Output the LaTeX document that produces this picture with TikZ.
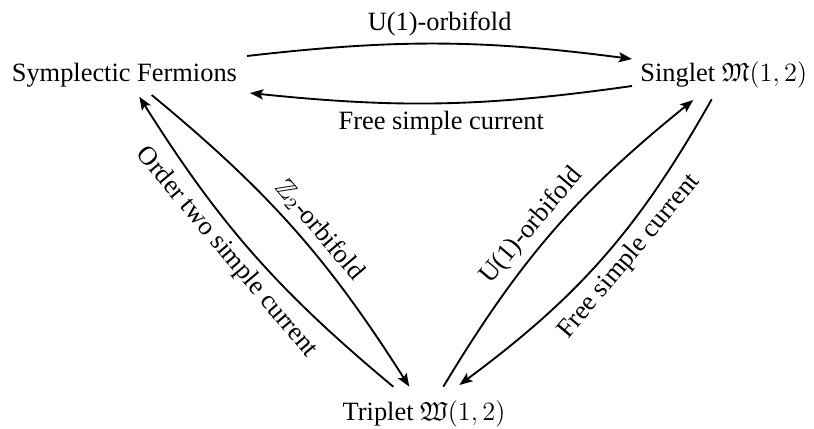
\documentclass[tikz,border=0pt,12pt]{standalone}
\usepackage{amssymb}
\usepackage[no-math]{fontspec}
\setmainfont{Liberation Serif}
\usetikzlibrary{arrows.meta}
\begin{document}
\begin{tikzpicture}[x=0.4545pt,y=0.4545pt,
  obj/.style={inner sep=0pt, anchor=base},
  arr/.style={-{Stealth[length=6pt,width=4.6pt,inset=1.2pt]}, line width=0.85pt},
  lab/.style={inner sep=3pt}]
\useasboundingbox (0,0) rectangle (814,-428);
\node[obj] (sf) at (124.4,-81) {Symplectic Fermions};
\node[obj] (sg) at (723.8,-81) {Singlet $\mathfrak{M}(1,2)$};
\node[obj] (tr) at (424,-420) {Triplet $\mathfrak{W}(1,2)$};
% horizontal pair
\draw[arr] ([shift={(122.6,25)}]sf.base) to[bend left=7]
  node[lab,above,pos=0.5]{U(1)-orbifold} ([shift={(-91.8,22)}]sg.base);
\draw[arr] ([shift={(-91.8,-5)}]sg.base) to[bend left=7]
  node[lab,below,pos=0.5]{Free simple current} ([shift={(125.6,-12)}]sf.base);
% left pair
\draw[arr] ([shift={(27.3,-14)}]sf.base) to[bend left=9]
  node[lab,above,sloped,pos=0.55]{$\mathbb{Z}_2$-orbifold} ([shift={(-14.7,33.3)}]tr.base);
\draw[arr] ([shift={(-30.7,33.3)}]tr.base) to[bend left=9]
  node[lab,below,sloped,pos=0.55]{Order two simple current} ([shift={(14.9,-15.7)}]sf.base);
% right pair
\draw[arr] ([shift={(19.3,33.3)}]tr.base) to[bend left=10]
  node[lab,above,sloped,pos=0.47]{U(1)-orbifold} ([shift={(-30.5,-19)}]sg.base);
\draw[arr] ([shift={(-12.1,-18.3)}]sg.base) to[bend left=12]
  node[lab,below,sloped,pos=0.45]{Free simple current} ([shift={(35.3,35)}]tr.base);
\end{tikzpicture}
\end{document}
